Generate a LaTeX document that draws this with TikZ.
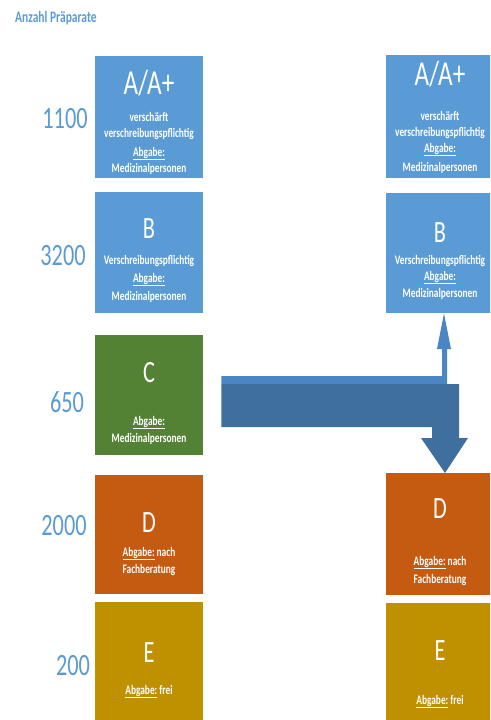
\documentclass[tikz,border=0pt]{standalone}
\usepackage{fontspec}
\setmainfont{Carlito}[FakeStretch=0.72]
\usetikzlibrary{calc}
\definecolor{boxblue}{HTML}{5B9BD5}
\definecolor{boxgreen}{HTML}{548235}
\definecolor{boxorange}{HTML}{C55A11}
\definecolor{boxgold}{HTML}{BF9000}
\definecolor{numblue}{HTML}{5B9BD5}
\definecolor{arrowdark}{HTML}{3F6F9F}
\definecolor{arrowlight}{HTML}{4A86C4}
\begin{document}
\begin{tikzpicture}[x=1pt,y=-1pt,
  box/.style={draw=none, minimum width=108pt, inner sep=0pt, anchor=north west},
  letter/.style={text=white, anchor=base, inner sep=0pt, font=\fontsize{31}{31}\selectfont},
  bigletter/.style={text=white, anchor=base, inner sep=0pt, font=\fontsize{35}{35}\selectfont},
  small/.style={text=white, anchor=base, inner sep=0pt, font=\fontsize{13}{15}\selectfont\bfseries},
  num/.style={text=numblue, anchor=base, inner sep=0pt, font=\fontsize{31}{31}\selectfont},
  title/.style={text=numblue, anchor=base west, inner sep=0pt, font=\fontsize{16}{16}\selectfont\bfseries}]
\useasboundingbox (0,0) rectangle (490,720);
\clip (0,0) rectangle (490,720);

\node[title] (title) at (15,23) {Anzahl Präparate};

% numbers
\node[num] (n1) at (65,128) {1100};
\node[num] (n2) at (63,265) {3200};
\node[num] (n3) at (67,412) {650};
\node[num] (n4) at (64,535) {2000};
\node[num] (n5) at (73,675) {200};

% left column
\node[box, fill=boxblue,   minimum height=122pt] (LA) at (95,56) {};
\node[box, fill=boxblue,   minimum height=121pt] (LB) at (95,192) {};
\node[box, fill=boxgreen,  minimum height=120pt] (LC) at (95,335) {};
\node[box, fill=boxorange, minimum height=119pt] (LD) at (95,475) {};
\node[box, fill=boxgold,   minimum height=120pt] (LE) at (95,602) {};

\node[bigletter] (LAt) at (149,94) {A/A+};
\node[small] (LA1) at (149,121) {verschärft};
\node[small] (LA2) at (149,137) {verschreibungspflichtig};
\node[small] (LA3) at (149,156) {\underline{Abgabe:}};
\node[small] (LA4) at (149,172) {Medizinalpersonen};

\node[letter] (LBt) at (149,238) {B};
\node[small] (LB1) at (149,264) {Verschreibungspflichtig};
\node[small] (LB2) at (149,282) {\underline{Abgabe:}};
\node[small] (LB3) at (149,300) {Medizinalpersonen};

\node[letter] (LCt) at (149,382) {C};
\node[small] (LC1) at (149,425) {\underline{Abgabe:}};
\node[small] (LC2) at (149,442) {Medizinalpersonen};

\node[letter] (LDt) at (149,532) {D};
\node[small] (LD1) at (149,556) {\underline{Abgabe:} nach};
\node[small] (LD2) at (149,573) {Fachberatung};

\node[letter] (LEt) at (149,662) {E};
\node[small] (LE1) at (149,694) {\underline{Abgabe:} frei};

% right column
\node[box, fill=boxblue,   minimum height=123pt] (RA) at (386,55) {};
\node[box, fill=boxblue,   minimum height=120pt] (RB) at (386,193) {};
\node[box, fill=boxorange, minimum height=122pt] (RD) at (386,473) {};
\node[box, fill=boxgold,   minimum height=120pt] (RE) at (386,603) {};

\node[bigletter] (RAt) at (440,85) {A/A+};
\node[small] (RA1) at (440,120) {verschärft};
\node[small] (RA2) at (440,136) {verschreibungspflichtig};
\node[small] (RA3) at (440,152) {\underline{Abgabe:}};
\node[small] (RA4) at (440,171) {Medizinalpersonen};

\node[letter] (RBt) at (440,242) {B};
\node[small] (RB1) at (440,264) {Verschreibungspflichtig};
\node[small] (RB2) at (440,280) {\underline{Abgabe:}};
\node[small] (RB3) at (440,297) {Medizinalpersonen};

\node[letter] (RDt) at (440,518) {D};
\node[small] (RD1) at (440,565) {\underline{Abgabe:} nach};
\node[small] (RD2) at (440,583) {Fachberatung};

\node[letter] (REt) at (440,660) {E};
\node[small] (RE1) at (440,704) {\underline{Abgabe:} frei};

% arrows from C
\coordinate (s) at ($(LC.east)+(18,0)$);
\fill[arrowlight] (s |- 0,376) -- (442,376) -- (442,349) -- (437,349)
  -- (RB.south -| 444,0) -- (451,349) -- (447,349) -- (447,384) -- (s |- 0,384) -- cycle;
\fill[arrowdark] (s |- 0,384) -- (459,384) -- (459,438) -- (468,438)
  -- (RD.north -| 445,0) -- (421,438) -- (432,438) -- (432,427) -- (s |- 0,427) -- cycle;
\end{tikzpicture}
\end{document}
